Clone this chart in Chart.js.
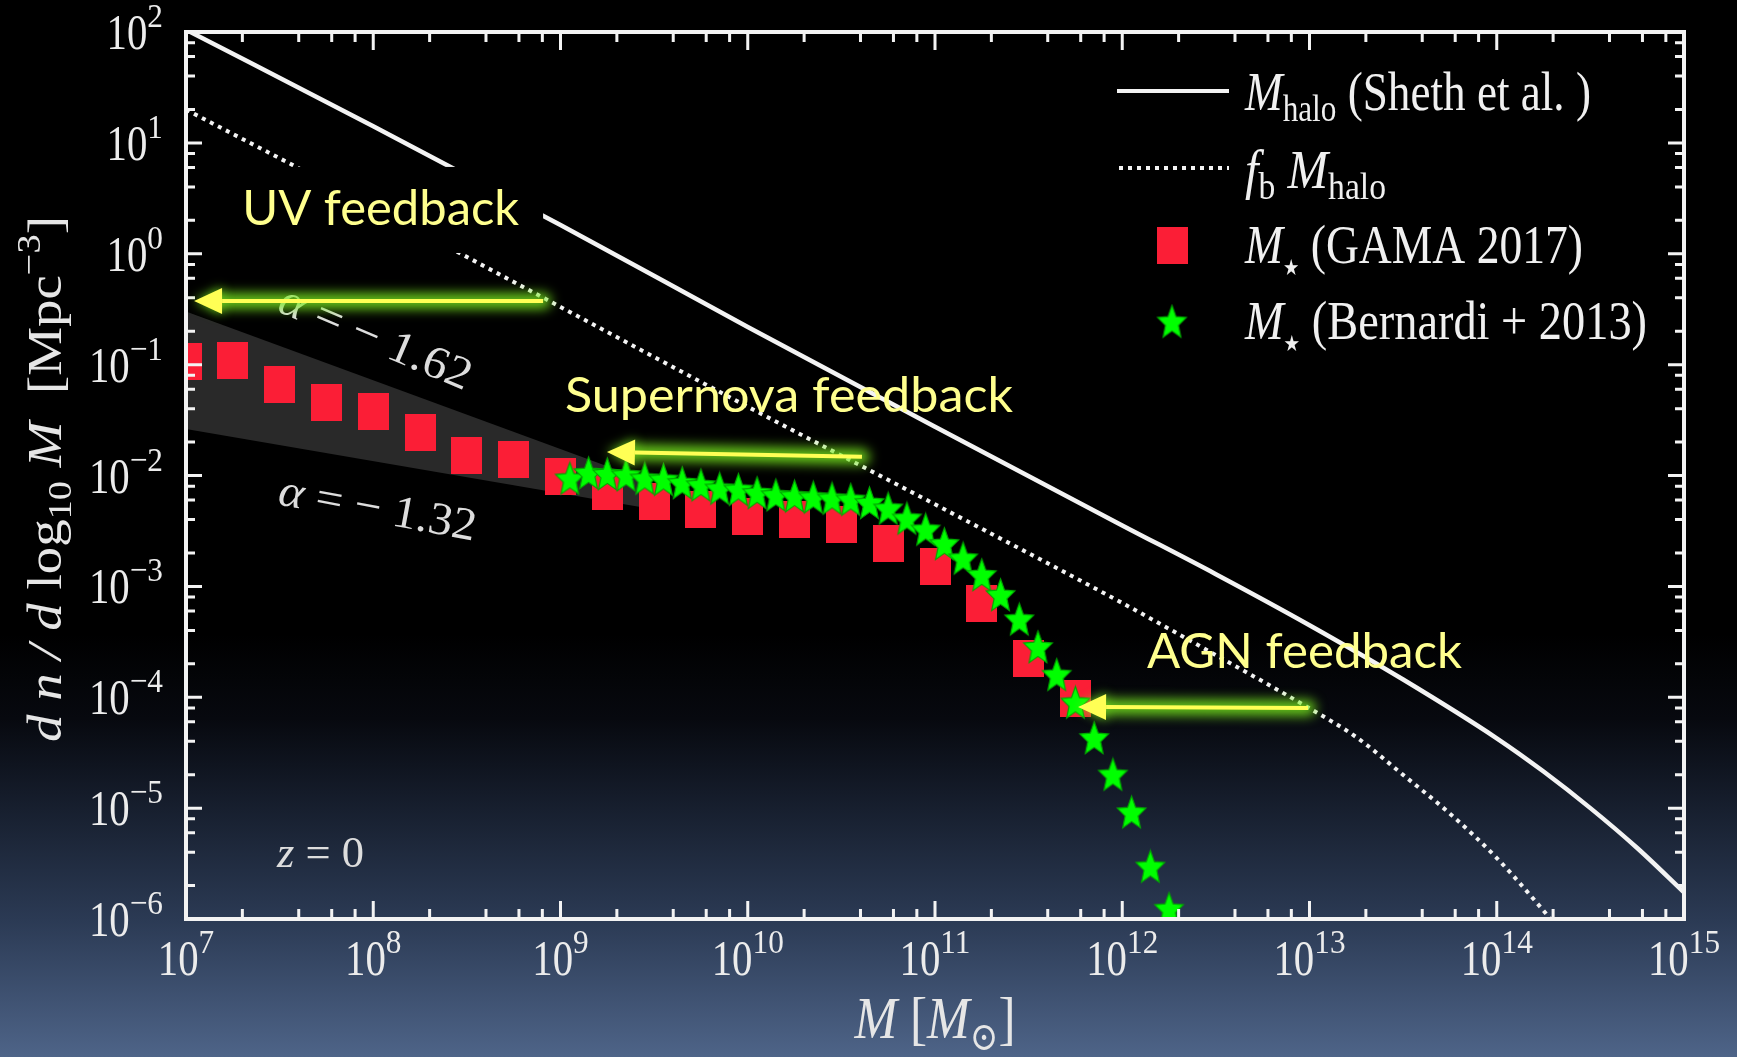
<!DOCTYPE html>
<html>
<head>
<meta charset="utf-8">
<script src="https://cdn.jsdelivr.net/npm/chart.js@4.4.1/dist/chart.umd.min.js"></script>
<style>
html,body{margin:0;padding:0;background:#000;overflow:hidden;}
#c{display:block;}
</style>
</head>
<body>
<canvas id="c" width="1737" height="1057" style="width:1737px;height:1057px"></canvas>
<script>
// ---------------- DATA (log10 values) ----------------
const xTickExponents = [7, 8, 9, 10, 11, 12, 13, 14, 15];
const yTickExponents = [-6, -5, -4, -3, -2, -1, 0, 1, 2];
const minorSubs = [2, 4, 6, 8];

// Halo mass function (Sheth et al.)
const haloLogM = [7.0, 8.0, 9.0, 10.0, 11.0, 12.0, 12.5, 13.0, 13.5, 14.0, 14.25, 14.5, 14.75, 15.0];
const haloLogN = [2.02, 1.15, 0.26, -0.66, -1.56, -2.45, -2.89, -3.35, -3.84, -4.37, -4.67, -5.00, -5.36, -5.76];

// f_b * M_halo
const baryonLogM = [7.0, 8.0, 9.0, 10.0, 11.0, 12.0, 12.5, 13.0, 13.25, 13.5, 13.75, 14.0, 14.35];
const baryonLogN = [1.30, 0.42, -0.48, -1.38, -2.26, -3.15, -3.62, -4.10, -4.36, -4.70, -5.05, -5.45, -6.12];

// GAMA 2017 stellar mass function
const gamaLogM = [7.00, 7.25, 7.50, 7.75, 8.00, 8.25, 8.50, 8.75, 9.00, 9.25,
                  9.50, 9.75, 10.00, 10.25, 10.50, 10.75, 11.00, 11.25, 11.50, 11.75];
const gamaLogN = [-0.97, -0.96, -1.18, -1.34, -1.42, -1.61, -1.82, -1.86, -2.01, -2.14,
                  -2.23, -2.31, -2.37, -2.40, -2.44, -2.61, -2.82, -3.15, -3.65, -4.01];

// Bernardi + 2013 stellar mass function
const bernLogM = [9.05, 9.15, 9.25, 9.35, 9.45, 9.55, 9.65, 9.75, 9.85, 9.95,
                  10.05, 10.15, 10.25, 10.35, 10.45, 10.55, 10.65, 10.75, 10.85, 10.95,
                  11.05, 11.15, 11.25, 11.35, 11.45, 11.55, 11.65, 11.75, 11.85, 11.95,
                  12.05, 12.15, 12.25];
const bernLogN = [-2.04, -1.99, -2.00, -2.01, -2.04, -2.05, -2.08, -2.10, -2.13, -2.14,
                  -2.17, -2.19, -2.20, -2.21, -2.22, -2.23, -2.26, -2.31, -2.40, -2.50,
                  -2.63, -2.76, -2.91, -3.09, -3.31, -3.56, -3.81, -4.06, -4.38, -4.71,
                  -5.05, -5.54, -5.92];

// Faint-end slope band (alpha = -1.62 upper, alpha = -1.32 lower)
const bandLogM = [7.0, 9.45];
const bandUpperLogN = [-0.52, -2.04];
const bandLowerLogN = [-1.58, -2.29];

// ---------------- helpers ----------------
const toPts = (ms, ns) => ms.map((m, i) => ({x: Math.pow(10, m), y: Math.pow(10, ns[i])}));
const SERIF = "'Liberation Serif','DejaVu Serif',serif";
const SANS = "Lato,'Open Sans','Noto Sans',sans-serif";
const F = (style, size) => `${style} ${size}px ${SERIF}`;

function makeRectImg(w, h, color) {
  const c = document.createElement('canvas');
  c.width = w; c.height = h;
  const g = c.getContext('2d');
  g.fillStyle = color; g.fillRect(0, 0, w, h);
  return c;
}
function makeStarImg(R, sx, color, edge) {
  const c = document.createElement('canvas');
  const w = Math.ceil(2 * R * sx) + 4, h = Math.ceil(2 * R) + 4;
  c.width = w; c.height = h;
  const g = c.getContext('2d');
  const cx = w / 2, cy = h / 2;
  g.beginPath();
  for (let i = 0; i < 10; i++) {
    const a = -Math.PI / 2 + i * Math.PI / 5;
    const r = (i % 2) ? R * 0.45 : R;
    const x = cx + r * Math.cos(a) * sx, y = cy + r * Math.sin(a);
    if (i === 0) g.moveTo(x, y); else g.lineTo(x, y);
  }
  g.closePath();
  g.fillStyle = color; g.fill();
  g.lineWidth = 1.2; g.strokeStyle = edge; g.stroke();
  return c;
}
const squareImg = makeRectImg(31, 37, '#fb1e36');
const starImg = makeStarImg(17.5, 0.86, '#00ff00', '#00a800');

function measureRuns(ctx, runs) {
  let w = 0;
  for (const r of runs) {
    ctx.font = r.font;
    r.w = ctx.measureText(r.t).width * (r.sx || 1);
    w += r.w;
  }
  return w;
}
function drawRuns(ctx, runs, x, y, align, fitW, color) {
  const total = measureRuns(ctx, runs);
  const k = fitW ? fitW / total : 1;
  let cur = align === 'right' ? x - total * k : align === 'center' ? x - total * k / 2 : x;
  ctx.save();
  ctx.fillStyle = color;
  ctx.textAlign = 'left';
  ctx.textBaseline = 'alphabetic';
  for (const r of runs) {
    ctx.font = r.font;
    ctx.save();
    ctx.translate(cur, y + (r.dy || 0));
    ctx.scale((r.sx || 1) * k, 1);
    ctx.fillText(r.t, 0, 0);
    ctx.restore();
    cur += r.w * k;
  }
  ctx.restore();
}
const expStr = e => (e < 0 ? '\u2212' + (-e) : String(e));

function drawArrow(ctx, x1, y1, x2, y2) {
  const ang = Math.atan2(y2 - y1, x2 - x1);
  const L = 28, W = 13;
  const bx = x2 - L * Math.cos(ang), by = y2 - L * Math.sin(ang);
  const path = () => {
    ctx.beginPath(); ctx.moveTo(x1, y1); ctx.lineTo(bx, by); ctx.stroke();
    ctx.beginPath(); ctx.moveTo(x2, y2);
    ctx.lineTo(bx - W * Math.sin(ang), by + W * Math.cos(ang));
    ctx.lineTo(bx + W * Math.sin(ang), by - W * Math.cos(ang));
    ctx.closePath(); ctx.fill();
  };
  ctx.save();
  ctx.filter = 'blur(6px)';
  ctx.strokeStyle = 'rgba(120,235,30,0.85)'; ctx.fillStyle = 'rgba(120,235,30,0.85)';
  ctx.lineWidth = 16; ctx.lineJoin = 'round'; ctx.lineCap = 'round';
  path();
  ctx.filter = 'none';
  ctx.strokeStyle = '#ffff55'; ctx.fillStyle = '#ffff55';
  ctx.lineWidth = 4; ctx.lineCap = 'butt';
  path();
  ctx.restore();
}

// ---------------- decoration plugin ----------------
const deco = {
  id: 'deco',
  beforeDraw(chart) {
    const {ctx, width, height} = chart;
    ctx.save();
    const g = ctx.createLinearGradient(0, 0, 0, height);
    g.addColorStop(0.0, '#000000');
    g.addColorStop(0.60, '#000000');
    g.addColorStop(0.68, '#07090f');
    g.addColorStop(0.75, '#141b29');
    g.addColorStop(0.87, '#2b3a54');
    g.addColorStop(1.0, '#4e6488');
    ctx.fillStyle = g;
    ctx.fillRect(0, 0, width, height);
    ctx.restore();
  },
  afterDatasetsDraw(chart) {
    const {ctx} = chart;
    const a = chart.chartArea;
    const xs = chart.scales.x, ys = chart.scales.y;
    const X = m => xs.getPixelForValue(Math.pow(10, m));
    const Y = n => ys.getPixelForValue(Math.pow(10, n));
    const WHITE = '#f3f3f3';

    // ---- frame and inward ticks ----
    ctx.save();
    ctx.strokeStyle = WHITE;
    ctx.lineWidth = 3;
    ctx.beginPath();
    for (const e of xTickExponents) {
      const vals = [[Math.pow(10, e), 18]];
      if (e < xTickExponents[xTickExponents.length - 1]) minorSubs.forEach(s => vals.push([s * Math.pow(10, e), 10]));
      for (const [v, L] of vals) {
        const px = xs.getPixelForValue(v);
        ctx.moveTo(px, a.bottom); ctx.lineTo(px, a.bottom - L);
        ctx.moveTo(px, a.top); ctx.lineTo(px, a.top + L);
      }
    }
    for (const e of yTickExponents) {
      const vals = [[Math.pow(10, e), 16]];
      if (e < yTickExponents[yTickExponents.length - 1]) minorSubs.forEach(s => vals.push([s * Math.pow(10, e), 9]));
      for (const [v, L] of vals) {
        const py = ys.getPixelForValue(v);
        ctx.moveTo(a.left, py); ctx.lineTo(a.left + L, py);
        ctx.moveTo(a.right, py); ctx.lineTo(a.right - L, py);
      }
    }
    ctx.stroke();
    ctx.lineWidth = 4;
    ctx.lineJoin = 'miter';
    ctx.strokeRect(a.left, a.top, a.right - a.left, a.bottom - a.top);
    ctx.restore();

    // ---- tick labels (from the library's scale ticks) ----
    xs.ticks.forEach((t, i) => {
      const px = xs.getPixelForValue(t.value);
      drawRuns(ctx, [
        {t: '10', font: F('', 51), sx: 0.8},
        {t: expStr(xTickExponents[i]), font: F('', 34), dy: -22, sx: 0.92}
      ], px, 975, 'center', null, '#ececec');
    });
    ys.ticks.forEach((t, i) => {
      const py = ys.getPixelForValue(t.value);
      drawRuns(ctx, [
        {t: '10', font: F('', 51), sx: 0.8},
        {t: expStr(yTickExponents[i]), font: F('', 34), dy: -22, sx: 0.92}
      ], 163, py + 17, 'right', null, '#ececec');
    });

    // ---- axis titles ----
    drawRuns(ctx, [
      {t: 'M', font: F('italic', 60)},
      {t: ' [', font: F('', 60)},
      {t: 'M', font: F('italic', 60)},
      {t: '\u2299', font: F('', 40), dy: 12},
      {t: ']', font: F('', 60)}
    ], (a.left + a.right) / 2, 1038, 'center', 161, '#e6e6e6');

    ctx.save();
    ctx.translate(61, 479);
    ctx.rotate(-Math.PI / 2);
    ctx.scale(1, 0.8);
    drawRuns(ctx, [
      {t: 'd n', font: F('italic', 60)},
      {t: ' / ', font: F('italic', 60)},
      {t: 'd', font: F('italic', 60)},
      {t: ' log', font: F('', 60)},
      {t: '10', font: F('', 42), dy: 13},
      {t: ' M', font: F('italic', 60)},
      {t: '  [Mpc', font: F('', 60)},
      {t: '\u22123', font: F('', 42), dy: -26},
      {t: ']', font: F('', 60)}
    ], 0, 0, 'center', 526, '#e6e6e6');
    ctx.restore();

    // ---- alpha labels & z = 0 ----
    const rotText = (runs, cx, cy, deg, fitW) => {
      ctx.save();
      ctx.translate(cx, cy);
      ctx.rotate(deg * Math.PI / 180);
      drawRuns(ctx, runs, 0, 15, 'center', fitW, '#dddddd');
      ctx.restore();
    };
    rotText([{t: '\u03b1', font: F('italic', 46)}, {t: ' = \u2212 1.62', font: F('', 46)}],
      X(8.015), Y(-0.75), 23, 205);
    rotText([{t: '\u03b1', font: F('italic', 46)}, {t: ' = \u2212 1.32', font: F('', 46)}],
      X(8.025), Y(-2.29), 10.5, 200);
    drawRuns(ctx, [{t: 'z', font: F('italic', 44)}, {t: ' = 0', font: F('', 44)}],
      X(7.486), Y(-5.53), 'left', 87, '#dddddd');

    // ---- UV feedback box (covers lines) ----
    ctx.save();
    ctx.fillStyle = '#000';
    ctx.fillRect(X(7.246), Y(0.783), X(8.907) - X(7.246), Y(0.007) - Y(0.783));
    ctx.restore();

    // ---- feedback texts ----
    const YEL = '#ffff8e';
    drawRuns(ctx, [{t: 'UV feedback', font: `48px ${SANS}`}], X(7.30), Y(0.26), 'left', 277, YEL);
    drawRuns(ctx, [{t: 'Supernova feedback', font: `48px ${SANS}`}], X(9.024), Y(-1.427), 'left', 448, YEL);
    drawRuns(ctx, [{t: 'AGN feedback', font: `48px ${SANS}`}], X(12.132), Y(-3.735), 'left', 315, YEL);

    // ---- arrows ----
    drawArrow(ctx, X(8.907), Y(-0.426), X(7.043), Y(-0.426));
    drawArrow(ctx, X(10.61), Y(-1.832), X(9.248), Y(-1.787));
    drawArrow(ctx, X(12.992), Y(-4.096), X(11.764), Y(-4.087));

    // ---- legend ----
    ctx.save();
    ctx.strokeStyle = WHITE;
    ctx.lineWidth = 4;
    ctx.beginPath(); ctx.moveTo(1117, 91); ctx.lineTo(1229, 91); ctx.stroke();
    ctx.lineWidth = 4;
    ctx.setLineDash([4, 5]);
    ctx.beginPath(); ctx.moveTo(1119, 168); ctx.lineTo(1229, 168); ctx.stroke();
    ctx.setLineDash([]);
    ctx.drawImage(squareImg, 1172 - squareImg.width / 2, 245 - squareImg.height / 2);
    ctx.drawImage(starImg, 1172 - starImg.width / 2, 323 - starImg.height / 2);
    ctx.restore();
    const LC = '#f0f0f0';
    drawRuns(ctx, [
      {t: 'M', font: F('italic', 55)}, {t: 'halo', font: F('', 38), dy: 11},
      {t: ' (Sheth et al. )', font: F('', 55)}
    ], 1245, 110, 'left', 346, LC);
    drawRuns(ctx, [
      {t: 'f', font: F('italic', 55)}, {t: 'b', font: F('', 38), dy: 11},
      {t: ' M', font: F('italic', 55)}, {t: 'halo', font: F('', 38), dy: 11}
    ], 1245, 188, 'left', 141, LC);
    drawRuns(ctx, [
      {t: 'M', font: F('italic', 55)}, {t: '\u2605', font: `22px 'DejaVu Sans',sans-serif`, dy: 12},
      {t: ' (GAMA 2017)', font: F('', 55)}
    ], 1245, 263, 'left', 338, LC);
    drawRuns(ctx, [
      {t: 'M', font: F('italic', 55)}, {t: '\u2605', font: `22px 'DejaVu Sans',sans-serif`, dy: 12},
      {t: ' (Bernardi + 2013)', font: F('', 55)}
    ], 1245, 339, 'left', 402, LC);
  }
};

// ---------------- chart ----------------
const ctx = document.getElementById('c').getContext('2d');
new Chart(ctx, {
  type: 'scatter',
  data: {
    datasets: [
      {
        label: 'alpha band upper',
        data: toPts(bandLogM, bandUpperLogN),
        showLine: true, borderWidth: 0, borderColor: 'rgba(0,0,0,0)',
        pointRadius: 0, fill: '+1', backgroundColor: 'rgba(255,255,255,0.16)', order: 10
      },
      {
        label: 'alpha band lower',
        data: toPts(bandLogM, bandLowerLogN),
        showLine: true, borderWidth: 0, borderColor: 'rgba(0,0,0,0)',
        pointRadius: 0, fill: false, order: 10
      },
      {
        label: 'M_halo (Sheth et al.)',
        data: toPts(haloLogM, haloLogN),
        showLine: true, borderColor: '#f3f3f3', borderWidth: 4.5,
        pointRadius: 0, cubicInterpolationMode: 'monotone', fill: false, order: 5
      },
      {
        label: 'f_b M_halo',
        data: toPts(baryonLogM, baryonLogN),
        showLine: true, borderColor: '#f3f3f3', borderWidth: 4, borderDash: [4, 5],
        borderCapStyle: 'butt',
        pointRadius: 0, cubicInterpolationMode: 'monotone', fill: false, order: 5
      },
      {
        label: 'M* (GAMA 2017)',
        data: toPts(gamaLogM, gamaLogN),
        showLine: false, pointStyle: squareImg, pointRadius: 15, clip: 0, order: 3
      },
      {
        label: 'M* (Bernardi + 2013)',
        data: toPts(bernLogM, bernLogN),
        showLine: false, pointStyle: starImg, pointRadius: 15, clip: 0, order: 2
      }
    ]
  },
  options: {
    responsive: false,
    animation: false,
    devicePixelRatio: 1,
    layout: {padding: {left: 186, top: 32, right: 53, bottom: 138}},
    plugins: {legend: {display: false}, tooltip: {enabled: false}},
    scales: {
      x: {
        type: 'logarithmic', min: 1e7, max: 1e15,
        grid: {display: false}, border: {display: false},
        ticks: {display: false},
        afterBuildTicks: s => { s.ticks = xTickExponents.map(e => ({value: Math.pow(10, e)})); },
        afterFit: s => { s.height = 0; }
      },
      y: {
        type: 'logarithmic', min: 1e-6, max: 1e2,
        grid: {display: false}, border: {display: false},
        ticks: {display: false},
        afterBuildTicks: s => { s.ticks = yTickExponents.map(e => ({value: Math.pow(10, e)})); },
        afterFit: s => { s.width = 0; }
      }
    }
  },
  plugins: [deco]
});
</script>
</body>
</html>
